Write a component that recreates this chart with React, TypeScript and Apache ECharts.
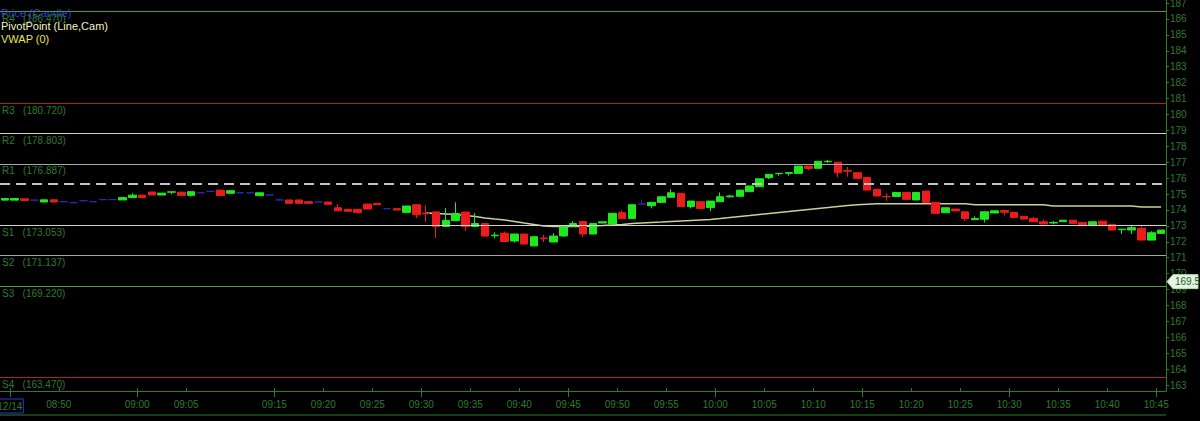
import React, { useEffect, useRef } from "react";
import * as echarts from "echarts";

const times = [
  "08:44","08:45","08:46","08:47","08:48","08:49","08:50","08:51","08:52","08:53","08:54",
  "08:57","08:58","08:59",
  "09:00","09:01","09:02","09:03","09:04","09:05","09:06","09:07","09:08","09:09",
  "09:11","09:12","09:13","09:14",
  "09:15","09:16","09:17","09:18","09:19","09:20","09:21","09:22","09:23","09:24",
  "09:25","09:26","09:27","09:28","09:29","09:30","09:31","09:32","09:33","09:34",
  "09:35","09:36","09:37","09:38","09:39","09:40","09:41","09:42","09:43","09:44",
  "09:45","09:46","09:47","09:48","09:49","09:50","09:51","09:52","09:53","09:54",
  "09:55","09:56","09:57","09:58","09:59","10:00","10:01","10:02","10:03","10:04",
  "10:05","10:06","10:07","10:08","10:09","10:10","10:11","10:12","10:13","10:14",
  "10:15","10:16","10:17","10:18","10:19","10:20","10:21","10:22","10:23","10:24",
  "10:25","10:26","10:27","10:28","10:29","10:30","10:31","10:32","10:33","10:34",
  "10:35","10:36","10:37","10:38","10:39","10:40","10:41","10:42","10:43","10:44",
  "10:45"
];
const closingBoundary = "10:46";

// [open, close, low, high]
const candles = [
  [174.62,174.72,174.60,174.74],[174.62,174.72,174.62,174.72],[174.70,174.60,174.60,174.70],[174.62,174.62,174.62,174.62],
  [174.50,174.64,174.50,174.64],[174.64,174.50,174.50,174.64],[174.52,174.52,174.52,174.52],[174.46,174.46,174.46,174.46],
  [174.58,174.58,174.58,174.58],[174.52,174.52,174.52,174.52],[174.65,174.65,174.65,174.65],[174.65,174.65,174.65,174.65],
  [174.63,174.78,174.63,174.78],[174.78,174.93,174.78,175.05],[174.93,174.78,174.78,174.93],[175.13,174.94,174.94,175.13],
  [174.94,175.06,174.94,175.06],[175.12,175.14,174.98,175.14],[175.12,174.92,174.92,175.12],[174.92,175.15,174.84,175.15],
  [175.08,175.08,175.08,175.08],[175.17,175.17,175.17,175.22],[175.25,174.90,174.90,175.25],[175.05,175.21,175.05,175.21],
  [175.08,175.08,175.08,175.08],[175.08,175.08,175.08,175.08],[174.90,175.08,174.90,175.08],[174.94,174.94,174.94,174.94],
  [174.63,174.63,174.63,174.72],[174.63,174.42,174.42,174.63],[174.63,174.42,174.42,174.63],[174.52,174.42,174.42,174.52],
  [174.50,174.50,174.50,174.50],[174.50,174.36,174.36,174.50],[174.14,173.95,173.95,174.36],[174.04,173.92,173.92,174.04],
  [174.04,173.85,173.85,174.04],[174.37,174.06,174.06,174.37],[174.42,174.33,174.33,174.42],[174.08,174.08,174.08,174.08],
  [174.08,174.00,174.00,174.08],[173.85,174.25,173.85,174.25],[174.33,173.70,173.49,174.33],[173.80,173.76,173.25,174.30],
  [173.88,172.97,172.24,173.90],[172.97,173.35,172.97,174.12],[173.33,173.78,173.30,174.48],[173.87,172.97,172.70,173.87],
  [172.97,173.15,172.97,173.80],[173.15,172.36,172.36,173.15],[172.38,172.42,172.22,172.60],[172.54,172.02,172.02,172.65],
  [172.05,172.49,171.95,172.49],[172.49,171.86,171.86,172.49],[171.74,172.32,171.74,172.32],[172.24,172.20,171.98,172.45],
  [171.99,172.36,171.99,172.55],[172.37,172.95,172.30,172.95],[172.99,173.15,172.99,173.30],[173.27,172.49,172.30,173.27],
  [172.49,173.15,172.49,173.15],[173.18,173.26,173.18,173.26],[173.12,173.79,173.00,173.79],[173.83,173.46,173.46,173.98],
  [173.46,174.33,173.46,174.33],[174.37,174.37,174.37,174.66],[174.27,174.48,174.10,174.48],[174.48,174.83,174.48,174.83],
  [174.80,175.08,174.80,175.30],[175.05,174.21,174.21,175.05],[174.21,174.56,174.10,174.56],[174.52,174.10,174.10,174.52],
  [174.15,174.56,173.93,174.56],[174.52,174.83,174.52,175.10],[174.83,174.88,174.77,174.95],[174.86,175.25,174.86,175.25],
  [175.15,175.51,175.15,175.51],[175.46,175.96,175.46,175.96],[176.03,176.24,175.94,176.24],[176.28,176.30,176.15,176.30],
  [176.30,176.35,176.15,176.35],[176.30,176.76,176.30,176.76],[176.76,176.61,176.50,176.76],[176.62,177.06,176.62,177.06],
  [177.03,177.06,176.97,177.14],[177.00,176.34,176.05,177.00],[176.47,176.44,176.10,176.70],[176.34,175.99,175.99,176.34],
  [176.05,175.25,175.25,176.05],[175.30,174.88,174.88,175.30],[174.85,174.83,174.58,175.05],[174.85,175.10,174.85,175.10],
  [175.10,174.67,174.67,175.10],[174.63,175.10,174.63,175.10],[175.19,174.48,174.48,175.19],[174.48,173.79,173.79,174.48],
  [173.83,174.14,173.83,174.14],[174.06,173.94,173.94,174.06],[173.89,173.46,173.31,173.89],[173.39,173.47,173.39,173.60],
  [173.42,173.89,173.22,173.89],[173.81,173.95,173.81,173.95],[173.96,173.86,173.67,173.96],[173.85,173.53,173.53,173.85],
  [173.60,173.43,173.43,173.60],[173.47,173.26,173.26,173.56],[173.26,173.12,173.12,173.40],[173.18,173.22,173.10,173.30],
  [173.27,173.36,173.27,173.36],[173.36,173.16,173.16,173.36],[173.22,173.05,173.05,173.22],[173.05,173.26,173.05,173.26],
  [173.30,173.05,173.05,173.30],[173.10,172.74,172.74,173.10],[172.76,172.80,172.49,172.80],[172.74,172.89,172.49,173.00],
  [172.85,172.11,172.11,172.99],[172.11,172.57,172.11,172.67],[172.53,172.74,172.53,172.74]
];

// VWAP starts at 09:30 (index 43)
const vwapStart = 43;
const vwapValues = [
  173.81,173.78,173.75,173.72,173.65,173.59,173.50,173.43,173.37,173.28,
  173.18,173.09,172.99,172.96,172.96,172.96,172.97,172.99,173.02,173.06,
  173.09,173.15,173.18,173.21,173.24,173.28,173.31,173.34,173.37,173.40,
  173.46,173.53,173.59,173.65,173.72,173.78,173.84,173.90,173.97,174.03,
  174.09,174.15,174.22,174.28,174.33,174.36,174.39,174.39,174.39,174.39,
  174.39,174.39,174.39,174.39,174.39,174.39,174.33,174.33,174.33,174.33,
  174.33,174.33,174.33,174.33,174.25,174.25,174.25,174.25,174.25,174.25,
  174.25,174.25,174.25,174.19,174.19,174.19
];

const pivotNames = ["R4", "R3", "R2", "R1", "P", "S1", "S2", "S3", "S4"];
const pivotValues = [186.47, 180.72, 178.803, 176.887, 175.64, 173.053, 171.137, 169.22, 163.47];
const yTickValues = [163,164,165,166,167,168,169,170,171,172,173,174,175,176,177,178,179,180,181,182,183,184,185,186,187];
const markerValue = 169.5;
const dateLabel = "12/14";
const dateIndex = 1;
const legendItems = ["Price (Candle)", "PivotPoint (Line,Cam)", "VWAP (0)"];

const W = 1200;
const H = 421;
const GRID_RIGHT = 34;
const GRID_BOTTOM = 30;
const FONT = "'Liberation Sans', Arial, sans-serif";
const AXIS_GREEN = "#2f7a2f";
const LABEL_GREEN = "#2f7a2f";
const pivotColors: Record<string, string> = {
  R4: "#3e9e3e", R3: "#a82222", R2: "#d6d3c0", R1: "#a9a9a9", P: "#c4c4c4",
  S1: "#d2d2c8", S2: "#a4a4a4", S3: "#4a9a4a", S4: "#b02222",
};

const minuteOf = (t: string) => parseInt(t.slice(3), 10);

export default function App() {
  const ref = useRef<HTMLDivElement>(null);
  useEffect(() => {
    document.body.style.margin = "0";
    document.body.style.background = "#000";
    const chart = echarts.init(ref.current!, null, { renderer: "svg" });
    const vwap = times.map((_, i) => (i >= vwapStart ? vwapValues[i - vwapStart] : null));
    // minute boundaries: the left edge of every band, plus the closing edge
    const boundaries = [...times, closingBoundary];
    const isLabel = (i: number) =>
      i === dateIndex || (i > 0 && i < times.length && minuteOf(boundaries[i]) % 5 === 0);
    const isLong = (i: number) => i < times.length && minuteOf(boundaries[i]) % 15 === 0;

    const baseGraphic: any[] = [
      {
        id: "lg0",
        type: "text",
        left: 1,
        top: 7,
        style: { text: legendItems[0], fill: "#2a3ee0", font: `11px ${FONT}` },
      },
      {
        id: "lg1",
        type: "text",
        left: 1,
        top: 20,
        style: { text: legendItems[1], fill: "#f2f2c4", font: `11px ${FONT}` },
      },
      {
        id: "lg2",
        type: "text",
        left: 1,
        top: 33,
        style: { text: legendItems[2], fill: "#e6e65a", font: `11px ${FONT}` },
      },
      {
        id: "bottomLine",
        type: "line",
        shape: { x1: 0, y1: 415, x2: W - GRID_RIGHT, y2: 415 },
        style: { stroke: AXIS_GREEN, lineWidth: 1 },
      },
    ];

    chart.setOption({
      animation: false,
      backgroundColor: "#000",
      textStyle: { fontFamily: FONT },
      grid: {
        left: 0,
        right: GRID_RIGHT,
        top: 0,
        bottom: GRID_BOTTOM,
        containLabel: false,
        outerBoundsMode: "none",
      },
      xAxis: [
        {
          type: "category",
          data: times,
          boundaryGap: true,
          axisLine: { onZero: false, lineStyle: { color: AXIS_GREEN, width: 1 } },
          axisTick: { show: false },
          axisLabel: { show: false },
          splitLine: { show: false },
        },
        {
          type: "category",
          data: boundaries,
          boundaryGap: false,
          position: "bottom",
          axisLine: { show: false, onZero: false },
          splitLine: { show: false },
          axisTick: {
            show: true,
            interval: (i: number) => isLabel(i),
            inside: true,
            length: 3,
            lineStyle: { color: AXIS_GREEN },
          },
          axisLabel: {
            interval: (i: number) => isLabel(i),
            formatter: (v: string, i: number) => (i === dateIndex ? `{d|${dateLabel}}` : v),
            color: LABEL_GREEN,
            fontSize: 10,
            fontFamily: FONT,
            margin: 8,
            rich: {
              d: {
                color: LABEL_GREEN,
                fontSize: 10,
                fontFamily: FONT,
                borderColor: "#2a3ad0",
                borderWidth: 1,
                padding: [2, 1, 2, 1],
              },
            },
          },
        },
        {
          type: "category",
          data: boundaries,
          boundaryGap: false,
          position: "bottom",
          axisLine: { show: false, onZero: false },
          splitLine: { show: false },
          axisTick: {
            show: true,
            interval: (i: number) => isLong(i),
            length: 6,
            lineStyle: { color: AXIS_GREEN },
          },
          axisLabel: { show: false },
        },
      ],
      yAxis: {
        type: "value",
        position: "right",
        min: 162.63,
        max: 187.19,
        scale: true,
        axisLine: { show: true, onZero: false, lineStyle: { color: AXIS_GREEN } },
        axisTick: { show: true, length: 3, customValues: yTickValues, lineStyle: { color: AXIS_GREEN } },
        axisLabel: {
          customValues: yTickValues,
          color: LABEL_GREEN,
          fontSize: 10,
          fontFamily: FONT,
          margin: 4,
        },
        splitLine: { show: false },
      },
      series: [
        {
          type: "candlestick",
          name: "Price",
          data: candles,
          barWidth: 8,
          itemStyle: {
            color: "#1fe81f",
            color0: "#ec1c1c",
            borderColor: "#1fe81f",
            borderColor0: "#ec1c1c",
            borderColorDoji: "#2a2ab8",
            borderWidth: 1,
          },
          markLine: {
            silent: true,
            symbol: ["none", "none"],
            animation: false,
            data: pivotNames.map((n, k) => ({
              yAxis: pivotValues[k],
              lineStyle:
                n === "P"
                  ? { color: pivotColors[n], width: 2, type: [10, 6] }
                  : { color: pivotColors[n], width: 1, type: "solid" },
              label:
                n === "P"
                  ? { show: false }
                  : {
                      show: true,
                      position: "insideStartBottom",
                      formatter: `${n}   (${pivotValues[k].toFixed(3)})`,
                      color: LABEL_GREEN,
                      fontSize: 10,
                      fontFamily: FONT,
                      distance: 2,
                    },
            })),
          },
        },
        {
          type: "line",
          name: "VWAP",
          data: vwap,
          showSymbol: false,
          symbol: "none",
          connectNulls: false,
          lineStyle: { color: "#cfcf98", width: 1.5 },
          z: 1,
        },
      ],
      graphic: baseGraphic,
    });

    const my = chart.convertToPixel({ yAxisIndex: 0 }, markerValue) as number;
    const ax = W - GRID_RIGHT + 1;
    chart.setOption({
      graphic: [
        ...baseGraphic,
        {
          id: "mkBox",
          type: "polygon",
          shape: {
            points: [
              [ax, my],
              [ax + 6, my - 7],
              [W - 2, my - 7],
              [W - 2, my + 7],
              [ax + 6, my + 7],
            ],
          },
          style: { fill: "#e4f4e4", stroke: "#b8d8b8" },
          z: 50,
        },
        {
          id: "mkText",
          type: "text",
          x: ax + 8,
          y: my,
          style: {
            text: String(markerValue),
            fill: "#1c5c1c",
            font: `10px ${FONT}`,
            textVerticalAlign: "middle",
          },
          z: 51,
        },
      ],
    });

    return () => chart.dispose();
  }, []);

  return (
    <div
      ref={ref}
      style={{ position: "absolute", left: 0, top: 0, width: W, height: H, background: "#000" }}
    />
  );
}
